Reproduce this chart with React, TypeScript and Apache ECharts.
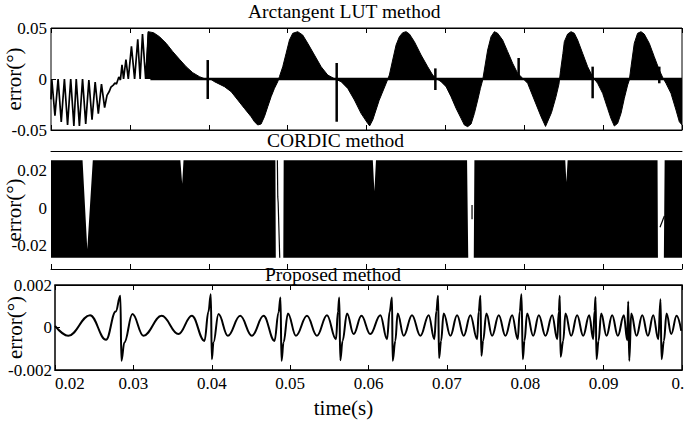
import React, { useEffect, useRef } from 'react';
import * as echarts from 'echarts';

const FONT = 'Liberation Serif';

// ---------- Arctangent LUT method ----------
// distinct oscillation trace (extrema) at the start
const lutTraceTime = [
  0.0200, 0.0201, 0.0205, 0.0209, 0.0213, 0.0217, 0.0221, 0.0225, 0.0229, 0.0232,
  0.0236, 0.0240, 0.0244, 0.0248, 0.0252, 0.0256, 0.0260, 0.0264, 0.0268, 0.0271,
  0.0274, 0.0276, 0.0279, 0.0281, 0.0283, 0.0286, 0.0288, 0.0290, 0.0292, 0.0295,
  0.0298, 0.0302, 0.0306, 0.0310, 0.0313, 0.0316, 0.0320, 0.0324, 0.0327,
];
const lutTraceError = [
  -0.020, 0.000, -0.036, 0.000, -0.042, 0.000, -0.045, 0.000, -0.046, 0.000,
  -0.046, 0.000, -0.044, -0.001, -0.040, -0.003, -0.034, -0.005, -0.028, -0.016,
  -0.012, -0.008, -0.006, -0.004, -0.005, 0.002, -0.001, 0.014, 0.000, 0.019,
  0.000, 0.032, 0.000, 0.039, 0.000, 0.044, 0.000, 0.046, 0.000,
];
// envelope of the dense part (filled to zero)
const lutEnvTime = [
  0.0320, 0.0323, 0.0330, 0.03375, 0.0346, 0.03544, 0.03629, 0.03713, 0.03797, 0.03882,
  0.03945, 0.0403, 0.04072, 0.04199, 0.04284, 0.04368, 0.04452, 0.04537, 0.04579, 0.04621,
  0.04664, 0.04706, 0.04748, 0.04791, 0.04833, 0.04875, 0.04896, 0.04938, 0.04981, 0.05023,
  0.05065, 0.05128, 0.05191, 0.05255, 0.0534, 0.05425, 0.05508, 0.05593, 0.05678, 0.05762,
  0.05847, 0.05931, 0.06015, 0.0604, 0.0608, 0.0616, 0.0625, 0.0629, 0.06332, 0.06375,
  0.06417, 0.06459, 0.06502, 0.06544, 0.06607, 0.06692, 0.06776, 0.06839, 0.06882, 0.06945,
  0.07009, 0.07072, 0.07136, 0.07199, 0.07241, 0.07283, 0.07326, 0.07368, 0.0741, 0.07444,
  0.07473, 0.07494, 0.07536, 0.07579, 0.07621, 0.07663, 0.07726, 0.0779, 0.07853, 0.07916,
  0.0798, 0.08043, 0.08128, 0.08213, 0.0827, 0.08345, 0.0840, 0.0844, 0.0846, 0.0849,
  0.08508, 0.0855, 0.08593, 0.08635, 0.08677, 0.0874, 0.08804, 0.08867, 0.0893, 0.08994,
  0.09057, 0.09099, 0.09142, 0.09184, 0.09227, 0.09269, 0.09311, 0.09332, 0.09354, 0.09395,
  0.09437, 0.0948, 0.09521, 0.09585, 0.09648, 0.09712, 0.09754, 0.09797, 0.0986, 0.09924,
  0.09966, 0.1000,
];
const lutEnvError = [
  0.000, 0.0464, 0.0454, 0.0415, 0.035, 0.0268, 0.0193, 0.0121, 0.0062, 0.0023,
  0.0003, -0.0005, -0.0026, -0.0075, -0.0124, -0.0206, -0.0288, -0.0369, -0.0418, -0.0451,
  -0.0441, -0.0369, -0.0271, -0.0173, -0.0092, -0.0026, 0.0023, 0.012, 0.0252, 0.0382,
  0.0448, 0.0464, 0.0431, 0.035, 0.0235, 0.012, 0.0039, 0.0003, -0.0026, -0.0092,
  -0.0206, -0.0337, -0.0435, -0.046, -0.040, -0.021, -0.004, 0.0039, 0.0186, 0.0333,
  0.0415, 0.0454, 0.0464, 0.0441, 0.0366, 0.0235, 0.012, 0.0039, 0.0007, -0.0026,
  -0.0075, -0.0173, -0.0288, -0.0386, -0.0451, -0.0467, -0.0441, -0.0337, -0.0206, -0.0092,
  -0.001, 0.0088, 0.0284, 0.0415, 0.0464, 0.0448, 0.0382, 0.0268, 0.0154, 0.0056,
  0.0007, -0.0042, -0.0206, -0.0369, -0.0465, -0.033, -0.018, -0.005, 0.008, 0.025,
  0.0366, 0.0441, 0.0464, 0.0448, 0.0382, 0.0252, 0.012, 0.0023, -0.0042, -0.014,
  -0.0288, -0.0386, -0.0461, -0.0435, -0.0337, -0.0189, -0.0059, -0.001, 0.012, 0.035,
  0.0448, 0.0464, 0.0441, 0.035, 0.0219, 0.0088, 0.0017, -0.0042, -0.014, -0.0304,
  -0.0419, -0.045,
];
const lutBaselineTime = [0.0326, 0.1];
const lutBaselineError = [0, 0];
const lutSpikeTime = [0.03987, 0.05622, 0.06873, 0.07929, 0.08867, 0.09712];
const lutSpikeHigh = [0.0186, 0.0157, 0.0104, 0.0206, 0.0121, 0.0121];
const lutSpikeLow = [-0.0196, -0.0419, -0.0108, -0.001, -0.0189, -0.0042];

// ---------- CORDIC method ----------
const cordicUpperTime = [
  0.0200, 0.0240, 0.0246, 0.0253, 0.0364, 0.03663, 0.0368, 0.04845, 0.0485, 0.04945,
  0.0495, 0.0608, 0.0610, 0.0612, 0.07275, 0.0729, 0.0736, 0.07368, 0.0852, 0.08534,
  0.0855, 0.0969, 0.09695, 0.0977, 0.0978, 0.1000,
];
const cordicUpperError = [
  0.0255, 0.0255, -0.022, 0.0255, 0.0255, 0.013, 0.0255, 0.0255, -0.0265, -0.0265,
  0.0255, 0.0255, 0.009, 0.0255, 0.0255, -0.0265, -0.0265, 0.0255, 0.0255, 0.014,
  0.0255, 0.0255, -0.0265, -0.0265, 0.0255, 0.0255,
];
const cordicLowerTime = [0.0200, 0.1000];
const cordicLowerError = [-0.0265, -0.0265];
const cordicGapBTime = [0.0487, 0.04875, 0.0488, 0.0490];
const cordicGapBError = [0.0255, 0.006, 0.003, -0.0265];
const cordicGapCTime = [0.07338, 0.07338];
const cordicGapCError = [0.0017, -0.006];
const cordicGapDTime = [0.09721, 0.09776];
const cordicGapDError = [-0.0102, -0.0042];

// ---------- Proposed method ----------
const propTime = [
  0.0200, 0.0217, 0.02447, 0.02651, 0.02775, 0.02834, 0.02847, 0.02885, 0.02988, 0.03128,
  0.03362, 0.03575, 0.03746, 0.03907, 0.03958, 0.03988, 0.04001, 0.04022, 0.04086, 0.04205,
  0.04363, 0.04512, 0.04661, 0.04801, 0.04852, 0.04877, 0.0489, 0.04916, 0.04972, 0.05074,
  0.05215, 0.05342, 0.0547, 0.05585, 0.0561, 0.05627, 0.0564, 0.05669, 0.05726, 0.0581,
  0.0591, 0.06023, 0.06151, 0.06236, 0.0627, 0.0630, 0.06308, 0.06342, 0.06372, 0.06449,
  0.06555, 0.06662, 0.06768, 0.0684, 0.06866, 0.06888, 0.069, 0.06926, 0.06959, 0.07045,
  0.0713, 0.07215, 0.073, 0.07386, 0.07406, 0.07428, 0.0744, 0.07462, 0.07504, 0.07577,
  0.07662, 0.07747, 0.07833, 0.07904, 0.0793, 0.07952, 0.07969, 0.0799, 0.08024, 0.08101,
  0.08173, 0.08258, 0.08344, 0.08408, 0.08428, 0.08441, 0.0845, 0.08484, 0.08513, 0.08586,
  0.08662, 0.08739, 0.08816, 0.08867, 0.08884, 0.08897, 0.08909, 0.08935, 0.08969, 0.09037,
  0.09109, 0.09181, 0.09258, 0.09301, 0.09314, 0.09327, 0.09352, 0.0942, 0.09493, 0.09565,
  0.09633, 0.09697, 0.09726, 0.09739, 0.09769, 0.09803, 0.09863, 0.09931, 0.09991,
];
const propError = [
  0.00008, -0.00039, 0.00058, -0.00058, 0.00075, 0.00149, -0.00157, -0.0007, 0.00063, -0.00039,
  0.00055, -0.00031, 0.00055, -0.00063, 0.00075, 0.00157, -0.00149, -0.0007, 0.00063, -0.00039,
  0.00055, -0.00039, 0.00055, -0.00063, 0.00071, 0.00141, -0.00157, -0.0007, 0.00066, -0.00039,
  0.00055, -0.00039, 0.00058, -0.00055, 0.00075, 0.00141, -0.00154, -0.00063, 0.00066, -0.00031,
  0.00055, -0.00031, 0.00058, -0.00055, 0.00075, 0.00141, -0.00157, -0.00063, 0.00066, -0.00039,
  0.00058, -0.00039, 0.00058, -0.00055, 0.00078, 0.00149, -0.00144, -0.00063, 0.00066, -0.00039,
  0.00058, -0.00039, 0.00058, -0.00055, 0.00075, 0.00149, -0.00133, -0.00063, 0.00066, -0.00039,
  0.00058, -0.00039, 0.00058, -0.00055, 0.00075, 0.00157, -0.00149, -0.00063, 0.00066, -0.00039,
  0.00058, -0.00039, 0.00058, -0.00055, 0.00075, 0.00149, -0.00138, -0.00063, 0.00066, -0.00039,
  0.00058, -0.00039, 0.00058, -0.00055, 0.00078, 0.00144, -0.00149, -0.00063, 0.00066, -0.00039,
  0.00058, -0.00039, 0.00058, -0.0006, 0.00122, -0.00157, 0.00066, -0.00039, 0.00058, -0.00039,
  0.00058, -0.00055, 0.00133, -0.00149, -0.00063, 0.00066, -0.00031, 0.00055, -0.00016,
];

const xTickMin = 0.02;
const xTickMax = 0.1;
const xTickStep = 0.01;
const cordicLabelValues = [-0.02, 0, 0.02];

const zip = (a: number[], b: number[]) => a.map((v, i) => [v, b[i]]);

const tickLabel = { fontFamily: FONT, fontSize: 17, color: '#000' };
const nameStyle = { fontFamily: FONT, fontSize: 21, color: '#000' };
const titleStyle = { fontFamily: FONT, fontSize: 19.5, color: '#000', fontWeight: 'normal' as const };

function xAxis(gridIndex: number, position: 'top' | 'bottom', opts: any = {}) {
  return {
    type: 'value',
    gridIndex,
    position,
    min: xTickMin,
    max: xTickMax,
    interval: xTickStep,
    axisLine: { show: true, onZero: false, lineStyle: { color: '#000', width: 1 } },
    axisTick: { show: true, inside: true, length: 5, lineStyle: { color: '#000' } },
    axisLabel: { show: false },
    splitLine: { show: false },
    ...opts,
  };
}

export default function App() {
  const ref = useRef<HTMLDivElement>(null);
  useEffect(() => {
    if (!ref.current) return;
    const chart = echarts.init(ref.current, undefined, { renderer: 'svg' });
    const lineBase = { type: 'line', showSymbol: false, symbol: 'none', silent: true, animation: false };
    const gridBase = { containLabel: false, outerBoundsMode: 'none' };
    const yName = { name: 'error(°)', nameLocation: 'middle', nameMoveOverlap: false, nameTextStyle: nameStyle };
    const option: any = {
      animation: false,
      backgroundColor: '#fff',
      title: [
        { text: 'Arctangent LUT method', left: 248, top: 1, padding: 0, textStyle: titleStyle },
        { text: 'CORDIC method', left: 267, top: 130, padding: 0, textStyle: titleStyle },
        { text: 'Proposed method', left: 265, top: 264, padding: 0, textStyle: titleStyle },
      ],
      grid: [
        { ...gridBase, left: 51, right: 2, top: 28, height: 102, show: true, borderColor: '#000', borderWidth: 1 },
        { ...gridBase, left: 51, right: 2, top: 151, height: 118, show: false },
        { ...gridBase, left: 55, right: 2, top: 285, height: 85, show: true, borderColor: '#000', borderWidth: 1.5 },
      ],
      xAxis: [
        xAxis(0, 'bottom'),
        xAxis(0, 'top'),
        xAxis(1, 'bottom'),
        xAxis(1, 'top', { axisTick: { show: false } }),
        xAxis(2, 'bottom', {
          axisLabel: { show: true, margin: 5, alignMinLabel: 'left', ...tickLabel },
          name: 'time(s)',
          nameLocation: 'middle',
          nameMoveOverlap: false,
          nameGap: 27,
          nameTextStyle: { ...nameStyle, padding: [0, 50, 0, 0] },
        }),
        xAxis(2, 'top'),
      ],
      yAxis: [
        {
          type: 'value', gridIndex: 0, min: -0.05, max: 0.05, interval: 0.05,
          axisLine: { show: false, onZero: false },
          axisTick: { show: true, inside: true, length: 5, lineStyle: { color: '#000' } },
          axisLabel: { margin: 4, ...tickLabel },
          splitLine: { show: false },
          ...yName, nameGap: 27,
        },
        {
          type: 'value', gridIndex: 1, min: -0.0325, max: 0.0305,
          axisLine: { show: false, onZero: false },
          axisTick: { show: false },
          axisLabel: {
            margin: 4, ...tickLabel, customValues: cordicLabelValues,
            formatter: (v: number) => (Math.abs(v) < 1e-9 ? '0' : v.toFixed(2)),
          },
          splitLine: { show: false },
          ...yName, nameGap: 27,
        },
        {
          type: 'value', gridIndex: 2, min: -0.002, max: 0.002, interval: 0.002,
          axisLine: { show: false, onZero: false },
          axisTick: { show: true, inside: true, length: 5, lineStyle: { color: '#000' } },
          axisLabel: {
            margin: 3, ...tickLabel,
            formatter: (v: number) => (Math.abs(v) < 1e-12 ? '0' : v.toFixed(3)),
          },
          splitLine: { show: false },
          ...yName, nameGap: 30,
        },
      ],
      series: [
        {
          ...lineBase, name: 'lutEnvelope', xAxisIndex: 0, yAxisIndex: 0,
          data: zip(lutEnvTime, lutEnvError),
          lineStyle: { color: '#000', width: 1 },
          areaStyle: { color: '#000', opacity: 1, origin: 0 },
        },
        {
          ...lineBase, name: 'lutBaseline', xAxisIndex: 0, yAxisIndex: 0,
          data: zip(lutBaselineTime, lutBaselineError),
          lineStyle: { color: '#000', width: 2.5 },
        },
        {
          ...lineBase, name: 'lutTrace', xAxisIndex: 0, yAxisIndex: 0,
          data: zip(lutTraceTime, lutTraceError),
          lineStyle: { color: '#000', width: 1.7 },
        },
        {
          type: 'custom', name: 'lutSpikes', xAxisIndex: 0, yAxisIndex: 0, silent: true,
          data: lutSpikeTime.map((t, i) => [t, lutSpikeHigh[i], lutSpikeLow[i]]),
          encode: { x: 0, y: [1, 2] },
          renderItem: (_p: any, api: any) => {
            const a = api.coord([api.value(0), api.value(1)]);
            const b = api.coord([api.value(0), api.value(2)]);
            return {
              type: 'line',
              shape: { x1: a[0], y1: a[1], x2: b[0], y2: b[1] },
              style: { stroke: '#000', lineWidth: 2.5 },
            };
          },
        },
        {
          type: 'custom', name: 'cordicBand', xAxisIndex: 2, yAxisIndex: 1, silent: true,
          data: [[xTickMin, 0]],
          renderItem: (_p: any, api: any) => {
            const pts: number[][] = [];
            cordicUpperTime.forEach((t, i) => pts.push(api.coord([t, cordicUpperError[i]])));
            for (let i = cordicLowerTime.length - 1; i >= 0; i--) {
              pts.push(api.coord([cordicLowerTime[i], cordicLowerError[i]]));
            }
            return { type: 'polygon', shape: { points: pts }, style: { fill: '#000' } };
          },
        },
        {
          ...lineBase, name: 'cordicGapB', xAxisIndex: 2, yAxisIndex: 1,
          data: zip(cordicGapBTime, cordicGapBError), lineStyle: { color: '#000', width: 1.2 },
        },
        {
          ...lineBase, name: 'cordicGapC', xAxisIndex: 2, yAxisIndex: 1,
          data: zip(cordicGapCTime, cordicGapCError), lineStyle: { color: '#000', width: 1.2 },
        },
        {
          ...lineBase, name: 'cordicGapD', xAxisIndex: 2, yAxisIndex: 1,
          data: zip(cordicGapDTime, cordicGapDError), lineStyle: { color: '#000', width: 1.2 },
        },
        {
          ...lineBase, name: 'proposed', xAxisIndex: 4, yAxisIndex: 2,
          data: zip(propTime, propError),
          smooth: 0.4, smoothMonotone: 'x',
          lineStyle: { color: '#000', width: 2 },
        },
      ],
    };
    chart.setOption(option);
    return () => chart.dispose();
  }, []);
  return (
    <div
      ref={ref}
      style={{ position: 'fixed', left: 0, top: 0, width: 684, height: 423, background: '#fff' }}
    />
  );
}
